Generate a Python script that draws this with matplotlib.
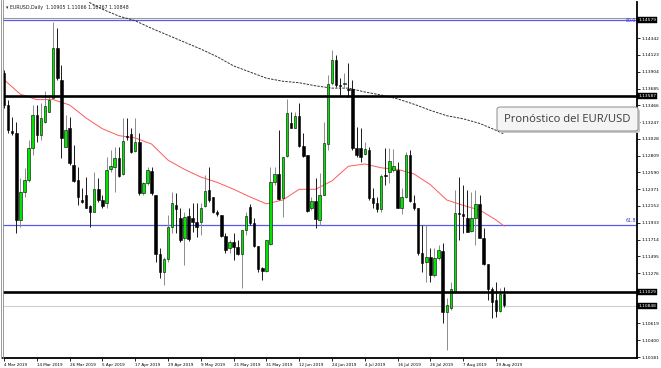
import matplotlib
matplotlib.use("Agg")
import matplotlib.pyplot as plt
from matplotlib.patches import FancyBboxPatch
from matplotlib.lines import Line2D

# ── Datos (EURUSD diario) ─────────────────────────────────────────────────────
opens = [
    1.1389, 1.1347, 1.1313, 1.1310, 1.1197, 1.1233, 1.1249, 1.1291, 1.1334, 1.1308,
    1.1325, 1.1338, 1.1356, 1.1421, 1.1380, 1.1292, 1.1317, 1.1269, 1.1249, 1.1223,
    1.1230, 1.1215, 1.1207, 1.1237, 1.1223, 1.1219, 1.1263, 1.1266, 1.1278, 1.1257,
    1.1306, 1.1309, 1.1287, 1.1299, 1.1232, 1.1245, 1.1261, 1.1230, 1.1153, 1.1129,
    1.1146, 1.1188, 1.1216, 1.1200, 1.1173, 1.1202, 1.1200, 1.1194, 1.1194, 1.1215,
    1.1236, 1.1227, 1.1207, 1.1203, 1.1176, 1.1160, 1.1168, 1.1162, 1.1153, 1.1184,
    1.1214, 1.1193, 1.1163, 1.1134, 1.1130, 1.1166, 1.1247, 1.1257, 1.1226, 1.1280,
    1.1324, 1.1317, 1.1333, 1.1293, 1.1282, 1.1213, 1.1222, 1.1197, 1.1230, 1.1296,
    1.1376, 1.1406, 1.1373, 1.1374, 1.1368, 1.1368, 1.1291, 1.1291, 1.1283, 1.1288,
    1.1226, 1.1219, 1.1211, 1.1256, 1.1260, 1.1262, 1.1262, 1.1213, 1.1227, 1.1282,
    1.1219, 1.1213, 1.1154, 1.1142, 1.1149, 1.1125, 1.1147, 1.1156, 1.1077, 1.1082,
    1.1103, 1.1206, 1.1205, 1.1200, 1.1183, 1.1200, 1.1218, 1.1173, 1.1139, 1.1107,
    1.1092, 1.1078, 1.1100,
]
highs = [
    1.1393, 1.1354, 1.1331, 1.1325, 1.1252, 1.1265, 1.1301, 1.1347, 1.1347, 1.1350,
    1.1365, 1.1360, 1.1455, 1.1447, 1.1399, 1.1334, 1.1331, 1.1295, 1.1266, 1.1239,
    1.1253, 1.1217, 1.1260, 1.1252, 1.1230, 1.1279, 1.1288, 1.1292, 1.1292, 1.1330,
    1.1330, 1.1317, 1.1330, 1.1310, 1.1246, 1.1266, 1.1266, 1.1230, 1.1160, 1.1149,
    1.1203, 1.1233, 1.1232, 1.1213, 1.1207, 1.1213, 1.1219, 1.1219, 1.1219, 1.1256,
    1.1266, 1.1227, 1.1210, 1.1203, 1.1180, 1.1171, 1.1180, 1.1171, 1.1184, 1.1207,
    1.1218, 1.1200, 1.1163, 1.1136, 1.1171, 1.1266, 1.1266, 1.1314, 1.1279, 1.1355,
    1.1338, 1.1338, 1.1350, 1.1310, 1.1282, 1.1227, 1.1252, 1.1258, 1.1325, 1.1386,
    1.1419, 1.1412, 1.1382, 1.1389, 1.1402, 1.1380, 1.1318, 1.1317, 1.1299, 1.1292,
    1.1239, 1.1227, 1.1257, 1.1291, 1.1291, 1.1290, 1.1273, 1.1239, 1.1286, 1.1288,
    1.1230, 1.1213, 1.1190, 1.1190, 1.1160, 1.1160, 1.1164, 1.1167, 1.1095, 1.1116,
    1.1236, 1.1253, 1.1243, 1.1236, 1.1233, 1.1236, 1.1230, 1.1186, 1.1139, 1.1109,
    1.1116, 1.1108, 1.1109,
]
lows = [
    1.1343, 1.1310, 1.1308, 1.1180, 1.1188, 1.1227, 1.1247, 1.1282, 1.1299, 1.1301,
    1.1323, 1.1338, 1.1356, 1.1380, 1.1278, 1.1292, 1.1269, 1.1247, 1.1217, 1.1219,
    1.1213, 1.1188, 1.1207, 1.1220, 1.1213, 1.1213, 1.1260, 1.1233, 1.1253, 1.1256,
    1.1301, 1.1284, 1.1286, 1.1230, 1.1230, 1.1243, 1.1230, 1.1142, 1.1121, 1.1112,
    1.1142, 1.1180, 1.1180, 1.1168, 1.1138, 1.1169, 1.1181, 1.1175, 1.1177, 1.1214,
    1.1220, 1.1206, 1.1202, 1.1175, 1.1154, 1.1154, 1.1145, 1.1151, 1.1108, 1.1177,
    1.1190, 1.1162, 1.1129, 1.1119, 1.1129, 1.1164, 1.1243, 1.1223, 1.1201, 1.1279,
    1.1317, 1.1317, 1.1292, 1.1279, 1.1207, 1.1210, 1.1186, 1.1190, 1.1230, 1.1288,
    1.1373, 1.1370, 1.1360, 1.1369, 1.1357, 1.1288, 1.1279, 1.1273, 1.1282, 1.1223,
    1.1213, 1.1207, 1.1207, 1.1243, 1.1245, 1.1260, 1.1213, 1.1205, 1.1226, 1.1220,
    1.1210, 1.1151, 1.1129, 1.1116, 1.1116, 1.1122, 1.1145, 1.1063, 1.1027, 1.1079,
    1.1103, 1.1171, 1.1180, 1.1181, 1.1181, 1.1164, 1.1173, 1.1138, 1.1092, 1.1069,
    1.1070, 1.1077, 1.1083,
]
closes = [
    1.1347, 1.1314, 1.1310, 1.1197, 1.1233, 1.1249, 1.1291, 1.1334, 1.1308, 1.1330,
    1.1346, 1.1354, 1.1421, 1.1382, 1.1304, 1.1314, 1.1271, 1.1248, 1.1227, 1.1220,
    1.1213, 1.1207, 1.1237, 1.1223, 1.1215, 1.1262, 1.1267, 1.1278, 1.1254, 1.1300,
    1.1305, 1.1286, 1.1299, 1.1232, 1.1245, 1.1262, 1.1232, 1.1153, 1.1129, 1.1146,
    1.1188, 1.1219, 1.1211, 1.1171, 1.1201, 1.1172, 1.1194, 1.1188, 1.1213, 1.1235,
    1.1223, 1.1207, 1.1205, 1.1176, 1.1158, 1.1168, 1.1162, 1.1153, 1.1184, 1.1202,
    1.1193, 1.1163, 1.1133, 1.1130, 1.1171, 1.1247, 1.1257, 1.1224, 1.1279, 1.1337,
    1.1317, 1.1333, 1.1293, 1.1280, 1.1209, 1.1222, 1.1198, 1.1230, 1.1297, 1.1374,
    1.1406, 1.1373, 1.1372, 1.1376, 1.1367, 1.1291, 1.1282, 1.1279, 1.1290, 1.1226,
    1.1219, 1.1211, 1.1254, 1.1254, 1.1274, 1.1267, 1.1213, 1.1227, 1.1282, 1.1222,
    1.1213, 1.1154, 1.1141, 1.1149, 1.1125, 1.1147, 1.1158, 1.1077, 1.1086, 1.1107,
    1.1206, 1.1205, 1.1202, 1.1181, 1.1200, 1.1218, 1.1173, 1.1139, 1.1107, 1.1090,
    1.1078, 1.1100, 1.1086,
]

ma_fast_idx = [0, 4, 8, 12, 16, 20, 24, 28, 32, 36, 40, 44, 48, 52, 56, 60, 64,
               68, 72, 76, 80, 84, 88, 92, 96, 100, 104, 108, 112, 116, 120, 122]
ma_fast = [1.1380, 1.1361, 1.1354, 1.1354, 1.1347, 1.1330, 1.1316, 1.1307, 1.1304,
           1.1296, 1.1275, 1.1263, 1.1253, 1.1246, 1.1237, 1.1227, 1.1218, 1.1223,
           1.1237, 1.1237, 1.1248, 1.1267, 1.1270, 1.1265, 1.1263, 1.1257, 1.1243,
           1.1223, 1.1216, 1.1210, 1.1197, 1.1189]
ma_slow_idx = [20, 24, 28, 32, 36, 40, 44, 48, 52, 56, 60, 64, 68, 72, 76, 80, 84,
               88, 92, 96, 100, 104, 108, 112, 116, 120, 122]
ma_slow = [1.1483, 1.1472, 1.1463, 1.1457, 1.1447, 1.1438, 1.1429, 1.1420, 1.1410,
           1.1398, 1.1390, 1.1382, 1.1378, 1.1376, 1.1372, 1.1369, 1.1369, 1.1364,
           1.1360, 1.1355, 1.1348, 1.1340, 1.1333, 1.1329, 1.1323, 1.1314, 1.1309]

date_idx = [0, 8, 16, 24, 32, 40, 48, 56, 64, 72, 80, 88, 96, 104, 112, 120]
date_labels = ["4 Mar 2019", "14 Mar 2019", "26 Mar 2019", "5 Apr 2019", "17 Apr 2019",
               "29 Apr 2019", "9 May 2019", "21 May 2019", "31 May 2019", "12 Jun 2019",
               "24 Jun 2019", "4 Jul 2019", "16 Jul 2019", "26 Jul 2019", "7 Aug 2019",
               "19 Aug 2019"]

price_ticks = [1.10181, 1.10400, 1.10619, 1.11276, 1.11495, 1.11714, 1.11933,
               1.12152, 1.12371, 1.12590, 1.12809, 1.13028, 1.13247, 1.13466,
               1.13685, 1.13904, 1.14123, 1.14342]

fib_top, fib_top_label = 1.14579, "80.0"
fib_mid, fib_mid_label = 1.11904, "61.8"
grey_top = 1.14605
resistance = 1.13587
support = 1.11029
bid = 1.10848
header = "EURUSD,Daily  1.10905 1.11066 1.10767 1.10848"

# ── Figura ─────────────────────────────────────────────────────────────────────
W, H = 661, 368
fig = plt.figure(figsize=(W / 100, H / 100), dpi=100)
ax = fig.add_axes([3 / W, 10 / H, 634 / W, 356 / H])
ax.set_xlim(-0.25, 154.4)
ax.set_ylim(1.10168, 1.14814)

BULL = "#00e400"
for i, (o, h, l, c) in enumerate(zip(opens, highs, lows, closes)):
    up = c > o
    ax.vlines(i, l, h, color="#8c8c8c" if up else "#1a1a1a", lw=0.7, zorder=3)
    body = max(abs(c - o), 0.00003)
    ax.bar(i, body, bottom=min(o, c), width=0.62, color=BULL if up else "black",
           edgecolor="black", linewidth=0.4, zorder=4)

ax.plot(ma_fast_idx, ma_fast, color="#ff5a5a", lw=0.7, zorder=2)
ax.plot(ma_slow_idx, ma_slow, color="#333333", lw=0.7, ls=(0, (2.5, 1.2)), zorder=2)

# líneas horizontales
ax.axhline(grey_top, color="#9a9a9a", lw=0.8, zorder=1)
ax.axhline(fib_top, color="#5a5af0", lw=0.9, zorder=1)
ax.axhline(fib_mid, color="#5a5af0", lw=0.9, zorder=1)
ax.axhline(bid, color="#cfcfcf", lw=0.8, zorder=1)
ax.axhline(resistance, color="black", lw=1.9, zorder=5)
ax.axhline(support, color="black", lw=1.9, zorder=5)

ax.text(0.9985, fib_top, fib_top_label, transform=ax.get_yaxis_transform(),
        ha="right", va="center", fontsize=3.3, color="#3030e0")
ax.text(0.9985, fib_mid + 0.0002, fib_mid_label, transform=ax.get_yaxis_transform(),
        ha="right", va="bottom", fontsize=3.3, color="#3030e0")

# ejes estilo MT4
for s in ("top", "left"):
    ax.spines[s].set_visible(False)
ax.spines["right"].set_linewidth(1.3)
ax.spines["bottom"].set_linewidth(1.3)
ax.yaxis.tick_right()
ax.set_yticks(price_ticks)
ax.set_yticklabels([f"{p:.5f}" for p in price_ticks])
ax.tick_params(axis="y", length=2, width=0.6, pad=1, labelsize=3.2)
ax.set_xticks(date_idx)
ax.set_xticklabels(date_labels, ha="left")
ax.tick_params(axis="x", length=2.5, width=0.6, pad=1, labelsize=3.0)

# etiquetas de precio resaltadas
for p in (fib_top, resistance, support, bid):
    ax.text(1.002, p, f"{p:.5f}", transform=ax.get_yaxis_transform(),
            ha="left", va="center", fontsize=3.2, color="white", clip_on=False,
            bbox=dict(boxstyle="square,pad=0.25", fc="black", ec="black", lw=0.3))

# cabecera
ax.text(0.004, 0.985, "\u25be " + header, transform=ax.transAxes, ha="left",
        va="center", fontsize=3.4, color="#202020")

# cuadro de texto
x0, x1 = 497 / W, 638 / W
y0, y1 = (H - 131) / H, (H - 107) / H
shadow = FancyBboxPatch((x0 + 2 / W, y0 - 2 / H), x1 - x0, y1 - y0,
                        boxstyle="round,pad=0,rounding_size=0.006",
                        transform=fig.transFigure, fc="#c8c8c8", ec="none", zorder=8)
box = FancyBboxPatch((x0, y0), x1 - x0, y1 - y0,
                     boxstyle="round,pad=0,rounding_size=0.006",
                     transform=fig.transFigure, fc="#f4f4f4", ec="#9a9a9a", lw=0.8,
                     zorder=9)
fig.patches.extend([shadow, box])
fig.text(504 / W, (y0 + y1) / 2, "Pronóstico del EUR/USD", ha="left", va="center",
         fontsize=8.1, family="Open Sans", color="#3c3c3c", zorder=10)

# marco izquierdo de la ventana
for xp in (0.8, 2.6):
    fig.add_artist(Line2D([xp / W, xp / W], [10 / H, 1], color="#8a8a8a", lw=0.6))

fig.savefig("out.png", dpi=100)
